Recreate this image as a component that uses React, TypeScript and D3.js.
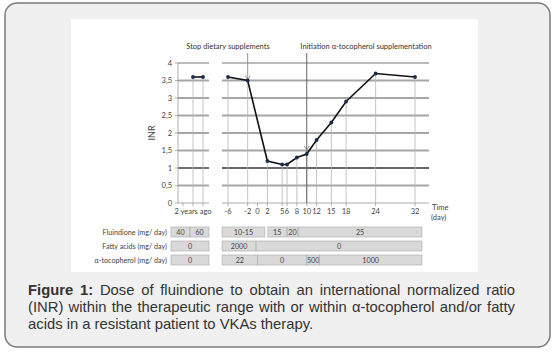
import React, { useEffect, useRef, useState } from "react";
import * as d3 from "d3";

// INR measurements
const pastLabel = "2 years ago";
const pastInr = [3.6, 3.6];
const days = [-6, -2, 2, 5, 6, 8, 10, 12, 15, 18, 24, 32];
const inr = [3.6, 3.5, 1.2, 1.1, 1.1, 1.3, 1.4, 1.8, 2.3, 2.9, 3.7, 3.6];
const dayTicks = [-6, -2, 0, 2, 5, 6, 8, 10, 12, 15, 18, 24, 32];
const inrTicks = [0, 0.5, 1, 1.5, 2, 2.5, 3, 3.5, 4];

// dose table rows: [label, past boxes, recent boxes (day ranges)]
const rowLabels = ["Fluindione (mg/ day)", "Fatty acids (mg/ day)", "α-tocopherol (mg/ day)"];
const pastDoses = [["40", "60"], ["0"], ["0"]];
const fluindione = [
  { from: -7.2, to: 1.5, text: "10-15" },
  { from: 2.1, to: 5.9, text: "15" },
  { from: 6.1, to: 8.1, text: "20" },
  { from: 8.3, to: 33.4, text: "25" },
];
const fattyAcids = [
  { from: -7.2, to: -0.3, text: "2000" },
  { from: -0.3, to: 33.4, text: "0" },
];
const tocopherol = [
  { from: -7.2, to: 0, text: "22" },
  { from: 0, to: 10, text: "0" },
  { from: 10, to: 12.6, text: "500" },
  { from: 12.6, to: 33.4, text: "1000" },
];

const captionLines = [
  "Dose of fluindione to obtain an international normalized ratio",
  "(INR) within the therapeutic range with or within α-tocopherol and/or fatty",
  "acids in a resistant patient to VKAs therapy.",
];

const small = "Lato, 'Open Sans', sans-serif";
const capFont = "'Liberation Sans', Arial, sans-serif";
const capWidth = 487;

export default function App() {
  const line1 = useRef<SVGTextElement>(null);
  const line2 = useRef<SVGTextElement>(null);
  const [spacing, setSpacing] = useState([0, 0]);

  useEffect(() => {
    // justify the first two caption lines by stretching word spacing
    const sp = [line1.current, line2.current].map((el) => {
      if (!el) return 0;
      const w = el.getComputedTextLength();
      const gaps = (el.textContent || "").split(" ").length - 1;
      return gaps > 0 ? (capWidth - w) / gaps : 0;
    });
    setSpacing(sp);
  }, []);

  const y = d3.scaleLinear().domain([0, 4]).range([203, 63]);
  const x = d3.scaleLinear().domain([-6, 32]).range([228, 415]);
  const xp = d3.scaleLinear().domain([0, 1]).range([193, 203]);
  const leftStart = 178, leftEnd = 209, rightStart = 222, rightEnd = 429;

  const line = d3.line<[number, number]>().x((d) => d[0]).y((d) => d[1]);
  const mainPts: [number, number][] = days.map((d, i) => [x(d), y(inr[i])]);
  const pastPts: [number, number][] = pastInr.map((v, i) => [xp(i), y(v)]);

  const gridStyle = (t: number) =>
    t === 1 ? { stroke: "#333", w: 1.4 } : t === 4 ? { stroke: "#666", w: 0.9 } : { stroke: "#a6a6a6", w: 2 };

  const rowY = [227, 241, 255];
  const boxH = 10;
  const recentRows = [fluindione, fattyAcids, tocopherol];
  const pastEdges = [[-2.2, -0.3, 1.6], [-2.2, 1.6], [-2.2, 1.6]];

  const arrow = (cx: number, cy: number) => `M${cx - 2.5},${cy - 4} L${cx},${cy} L${cx + 2.5},${cy - 4}`;

  return (
    <svg width={560} height={353} style={{ position: "absolute", left: 0, top: 0 }}>
      <rect x={5} y={3} width={545} height={344} rx={12} fill="#f0f0f0" stroke="#7a7a7a" strokeWidth={1.5} />
      <rect x={71} y={19} width={407} height={253} fill="#ffffff" />

      {/* horizontal grid */}
      {inrTicks.filter((t) => t > 0).map((t) => {
        const s = gridStyle(t);
        return (
          <g key={t}>
            <line x1={leftStart} x2={leftEnd} y1={y(t)} y2={y(t)} stroke={s.stroke} strokeWidth={s.w} />
            <line x1={rightStart} x2={rightEnd} y1={y(t)} y2={y(t)} stroke={s.stroke} strokeWidth={s.w} />
          </g>
        );
      })}

      {/* drop lines */}
      {pastPts.map((p, i) => (
        <line key={"pd" + i} x1={p[0]} x2={p[0]} y1={p[1]} y2={y(0)} stroke="#b5b5b5" strokeWidth={0.8} />
      ))}
      {mainPts.map((p, i) => (
        <line key={"d" + i} x1={p[0]} x2={p[0]} y1={p[1]} y2={y(0)} stroke="#b5b5b5" strokeWidth={0.8} />
      ))}

      {/* axes */}
      <line x1={leftStart} x2={leftStart} y1={y(4)} y2={y(0)} stroke="#999" strokeWidth={0.8} />
      <line x1={leftStart} x2={leftEnd} y1={y(0)} y2={y(0)} stroke="#999" strokeWidth={0.8} />
      <line x1={rightStart} x2={rightEnd} y1={y(0)} y2={y(0)} stroke="#999" strokeWidth={0.8} />
      {inrTicks.map((t) => (
        <g key={"yt" + t}>
          <line x1={leftStart - 3} x2={leftStart} y1={y(t)} y2={y(t)} stroke="#999" strokeWidth={0.8} />
          <text x={172} y={y(t) + 2.5} textAnchor="end" fontSize={7.5} fontFamily={small} fill="#444">
            {String(t).replace(".", ",")}
          </text>
        </g>
      ))}
      {[183, xp(0), xp(1)].map((px, i) => (
        <line key={"lt" + i} x1={px} x2={px} y1={y(0)} y2={y(0) + 3} stroke="#999" strokeWidth={0.8} />
      ))}
      {dayTicks.map((d) => (
        <g key={"xt" + d}>
          <line x1={x(d)} x2={x(d)} y1={y(0)} y2={y(0) + 3} stroke="#999" strokeWidth={0.8} />
          <text x={x(d)} y={214} textAnchor="middle" fontSize={7.5} fontFamily={small} fill="#444">
            {d}
          </text>
        </g>
      ))}
      <text x={(xp(0) + xp(1)) / 2 - 5} y={214} textAnchor="middle" fontSize={7.5} fontFamily={small} fill="#444">
        {pastLabel}
      </text>
      <text x={432} y={210} fontSize={7.5} fontFamily={small} fill="#444">Time</text>
      <text x={431} y={220} fontSize={7.5} fontFamily={small} fill="#444">(day)</text>
      <text transform={`translate(155,${y(2)}) rotate(-90)`} textAnchor="middle" fontSize={9} fontFamily={small} fill="#444">
        INR
      </text>

      {/* annotations */}
      <text x={228} y={49} textAnchor="middle" fontSize={7.5} fontFamily={small} fill="#333">Stop dietary supplements</text>
      <text x={366} y={49} textAnchor="middle" fontSize={7.5} fontFamily={small} fill="#333">Initiation α-tocopherol supplementation</text>
      <line x1={x(-2)} x2={x(-2)} y1={53} y2={y(3.5) - 1} stroke="#888" strokeWidth={0.9} />
      <path d={arrow(x(-2), y(3.5) - 1)} fill="none" stroke="#888" strokeWidth={0.9} />
      <line x1={x(10)} x2={x(10)} y1={53} y2={y(0)} stroke="#555" strokeWidth={0.9} />
      <path d={arrow(x(10), y(1.4) - 4)} fill="none" stroke="#888" strokeWidth={0.9} />

      {/* INR line */}
      <path d={line(pastPts) ?? ""} fill="none" stroke="#111" strokeWidth={1.6} />
      <path d={line(mainPts) ?? ""} fill="none" stroke="#111" strokeWidth={1.6} />
      {[...pastPts, ...mainPts].map((p, i) => (
        <circle key={"m" + i} cx={p[0]} cy={p[1]} r={1.9} fill="#1d2b4a" />
      ))}

      {/* dose table */}
      {rowLabels.map((lab, r) => (
        <g key={"row" + r}>
          <text x={167} y={rowY[r] + 7.5} textAnchor="end" fontSize={7.2} fontFamily={small} fill="#444">{lab}</text>
          {pastDoses[r].map((t, i) => {
            const x0 = xp(pastEdges[r][i]);
            const x1 = xp(pastEdges[r][i + 1]);
            return (
              <g key={"pb" + i}>
                <rect x={x0} y={rowY[r]} width={x1 - x0} height={boxH} fill="#d9d9d9" stroke="#b0b0b0" strokeWidth={0.7} />
                <text x={(x0 + x1) / 2} y={rowY[r] + 7.5} textAnchor="middle" fontSize={7.2} fontFamily={small} fill="#444">{t}</text>
              </g>
            );
          })}
          {recentRows[r].map((b, i) => {
            const x0 = x(b.from);
            const x1 = x(b.to);
            return (
              <g key={"rb" + i}>
                <rect x={x0} y={rowY[r]} width={x1 - x0} height={boxH} fill="#d9d9d9" stroke="#b0b0b0" strokeWidth={0.7} />
                <text x={(x0 + x1) / 2} y={rowY[r] + 7.5} textAnchor="middle" fontSize={7.2} fontFamily={small} fill="#444">{b.text}</text>
              </g>
            );
          })}
        </g>
      ))}

      {/* caption */}
      <text ref={line1} x={28} y={295} fontSize={14.8} fontFamily={capFont} fill="#333" wordSpacing={spacing[0]}>
        <tspan fontWeight="bold">Figure 1:</tspan> {captionLines[0]}
      </text>
      <text ref={line2} x={28} y={312} fontSize={14.8} fontFamily={capFont} fill="#333" wordSpacing={spacing[1]}>
        {captionLines[1]}
      </text>
      <text x={28} y={329} fontSize={14.8} fontFamily={capFont} fill="#333">
        {captionLines[2]}
      </text>
    </svg>
  );
}
